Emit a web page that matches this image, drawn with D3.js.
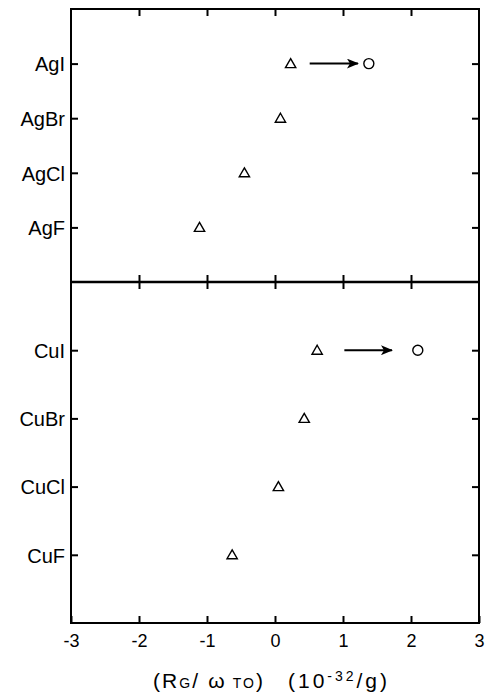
<!DOCTYPE html>
<html>
<head>
<meta charset="utf-8">
<script src="https://cdn.jsdelivr.net/npm/d3@7"></script>
<style>
  body { margin: 0; background: #fff; }
  text { font-family: "Liberation Sans", Arial, sans-serif; fill: #000; }
</style>
</head>
<body>
<div class="container"></div>
<script>
// data
const silverNames = ['AgI', 'AgBr', 'AgCl', 'AgF'];
const silverValues = [0.23, 0.08, -0.45, -1.11];
const copperNames = ['CuI', 'CuBr', 'CuCl', 'CuF'];
const copperValues = [0.62, 0.43, 0.05, -0.63];
// circle (shifted value) and arrow span for the iodides
const silverShift = { name: 'AgI', from: 0.51, to: 1.22, value: 1.38 };
const copperShift = { name: 'CuI', from: 1.02, to: 1.72, value: 2.1 };
const xTicks = [-3, -2, -1, 0, 1, 2, 3];

const width = 489;
const height = 698;
const plotLeft = 71;
const plotRight = 479;
const plotTop = 9;
const plotMid = 282;
const plotBottom = 623;
const tick = 7;

const svg = d3.select('.container').append('svg').attr('width', width).attr('height', height);

const defs = svg.append('defs');
defs
  .append('marker')
  .attr('id', 'head')
  .attr('viewBox', '0 0 12 10')
  .attr('refX', 11)
  .attr('refY', 5)
  .attr('markerWidth', 12)
  .attr('markerHeight', 10)
  .attr('markerUnits', 'userSpaceOnUse')
  .attr('orient', 'auto')
  .append('path')
  .attr('d', 'M0,0 L12,5 L0,10 L3,5 Z')
  .attr('fill', '#000');

//x-scale shared by both panels
const xScale = d3.scaleLinear().domain([-3, 3]).range([plotLeft, plotRight]);

const triangle = d3.symbol().type(d3.symbolTriangle).size(46);

const drawPanel = (names, values, shift, y0, y1, cls) => {
  const g = svg.append('g').attr('class', cls);
  const yScale = d3.scalePoint().domain(names).range([y0, y1]).padding(1);

  //y axes, ticks pointing inward
  g.append('g')
    .attr('transform', `translate(${plotLeft},0)`)
    .call(d3.axisLeft(yScale).tickSizeInner(-tick).tickSizeOuter(0).tickPadding(6))
    .call(a => a.select('.domain').remove())
    .call(a => a.selectAll('line').attr('stroke-width', 2))
    .call(a => a.selectAll('text').attr('font-size', 20).attr('font-family', null).attr('dy', '0.36em'));

  g.append('g')
    .attr('transform', `translate(${plotRight},0)`)
    .call(d3.axisRight(yScale).tickSizeInner(-tick).tickSizeOuter(0).tickFormat(''))
    .call(a => a.select('.domain').remove())
    .call(a => a.selectAll('line').attr('stroke-width', 2));

  //triangles
  g.selectAll('path.pt')
    .data(names)
    .join('path')
    .attr('class', 'pt')
    .attr('d', triangle)
    .attr('transform', (d, i) => `translate(${xScale(values[i])},${yScale(d) + 1})`)
    .attr('fill', 'none')
    .attr('stroke', '#000')
    .attr('stroke-width', 1.4);

  //arrow and circle
  const yy = yScale(shift.name);
  g.append('line')
    .attr('x1', xScale(shift.from))
    .attr('x2', xScale(shift.to))
    .attr('y1', yy)
    .attr('y2', yy)
    .attr('stroke', '#000')
    .attr('stroke-width', 2)
    .attr('marker-end', 'url(#head)');

  g.append('circle')
    .attr('cx', xScale(shift.value))
    .attr('cy', yy)
    .attr('r', 5)
    .attr('fill', 'none')
    .attr('stroke', '#000')
    .attr('stroke-width', 1.4);
};

drawPanel(silverNames, silverValues, silverShift, plotTop, plotMid, 'silver');
drawPanel(copperNames, copperValues, copperShift, plotMid, plotBottom, 'copper');

//x ticks: top edge, divider (both sides), bottom edge with labels
const inner = xTicks.slice(1, -1);
const xAxes = svg.append('g').attr('class', 'x-axes');

xAxes
  .append('g')
  .attr('transform', `translate(0,${plotTop})`)
  .call(d3.axisTop(xScale).tickValues(inner).tickSizeInner(-tick).tickSizeOuter(0).tickFormat(''))
  .call(a => a.select('.domain').remove())
  .call(a => a.selectAll('line').attr('stroke-width', 2));

xAxes
  .append('g')
  .attr('transform', `translate(0,${plotMid})`)
  .call(d3.axisTop(xScale).tickValues(inner).tickSizeInner(tick).tickSizeOuter(0).tickFormat(''))
  .call(a => a.select('.domain').remove())
  .call(a => a.selectAll('line').attr('stroke-width', 2));

xAxes
  .append('g')
  .attr('transform', `translate(0,${plotMid})`)
  .call(d3.axisBottom(xScale).tickValues(inner).tickSizeInner(tick).tickSizeOuter(0).tickFormat(''))
  .call(a => a.select('.domain').remove())
  .call(a => a.selectAll('line').attr('stroke-width', 2));

xAxes
  .append('g')
  .attr('transform', `translate(0,${plotBottom})`)
  .call(d3.axisBottom(xScale).tickValues(xTicks).tickSizeInner(-tick).tickSizeOuter(0).tickPadding(11).tickFormat(d3.format('d')))
  .call(a => a.select('.domain').remove())
  .call(a => a.selectAll('line').attr('stroke-width', 2))
  .call(a => a.selectAll('text').attr('font-size', 18).attr('font-family', null).text(d => String(d)));

//frames
svg.append('rect')
  .attr('x', plotLeft).attr('y', plotTop)
  .attr('width', plotRight - plotLeft).attr('height', plotBottom - plotTop)
  .attr('fill', 'none').attr('stroke', '#000').attr('stroke-width', 2);

svg.append('line')
  .attr('x1', plotLeft).attr('x2', plotRight)
  .attr('y1', plotMid).attr('y2', plotMid)
  .attr('stroke', '#000').attr('stroke-width', 2.5);

//axis title, two groups stretched to the reference spacing
const t1 = svg.append('text')
  .attr('x', 153)
  .attr('y', 688)
  .attr('font-size', 21)
  .attr('textLength', 110)
  .attr('lengthAdjust', 'spacing');
t1.append('tspan').text('(R');
t1.append('tspan').attr('font-size', 14).text('G');
t1.append('tspan').text('/ ω');
t1.append('tspan').attr('font-size', 14).text(' TO');
t1.append('tspan').text(')');

const t2 = svg.append('text')
  .attr('x', 288)
  .attr('y', 688)
  .attr('font-size', 21)
  .attr('textLength', 99)
  .attr('lengthAdjust', 'spacing');
t2.append('tspan').text('(10');
t2.append('tspan').attr('font-size', 14).attr('dy', -7).text('-32');
t2.append('tspan').attr('dy', 7).text('/g)');
</script>
</body>
</html>
